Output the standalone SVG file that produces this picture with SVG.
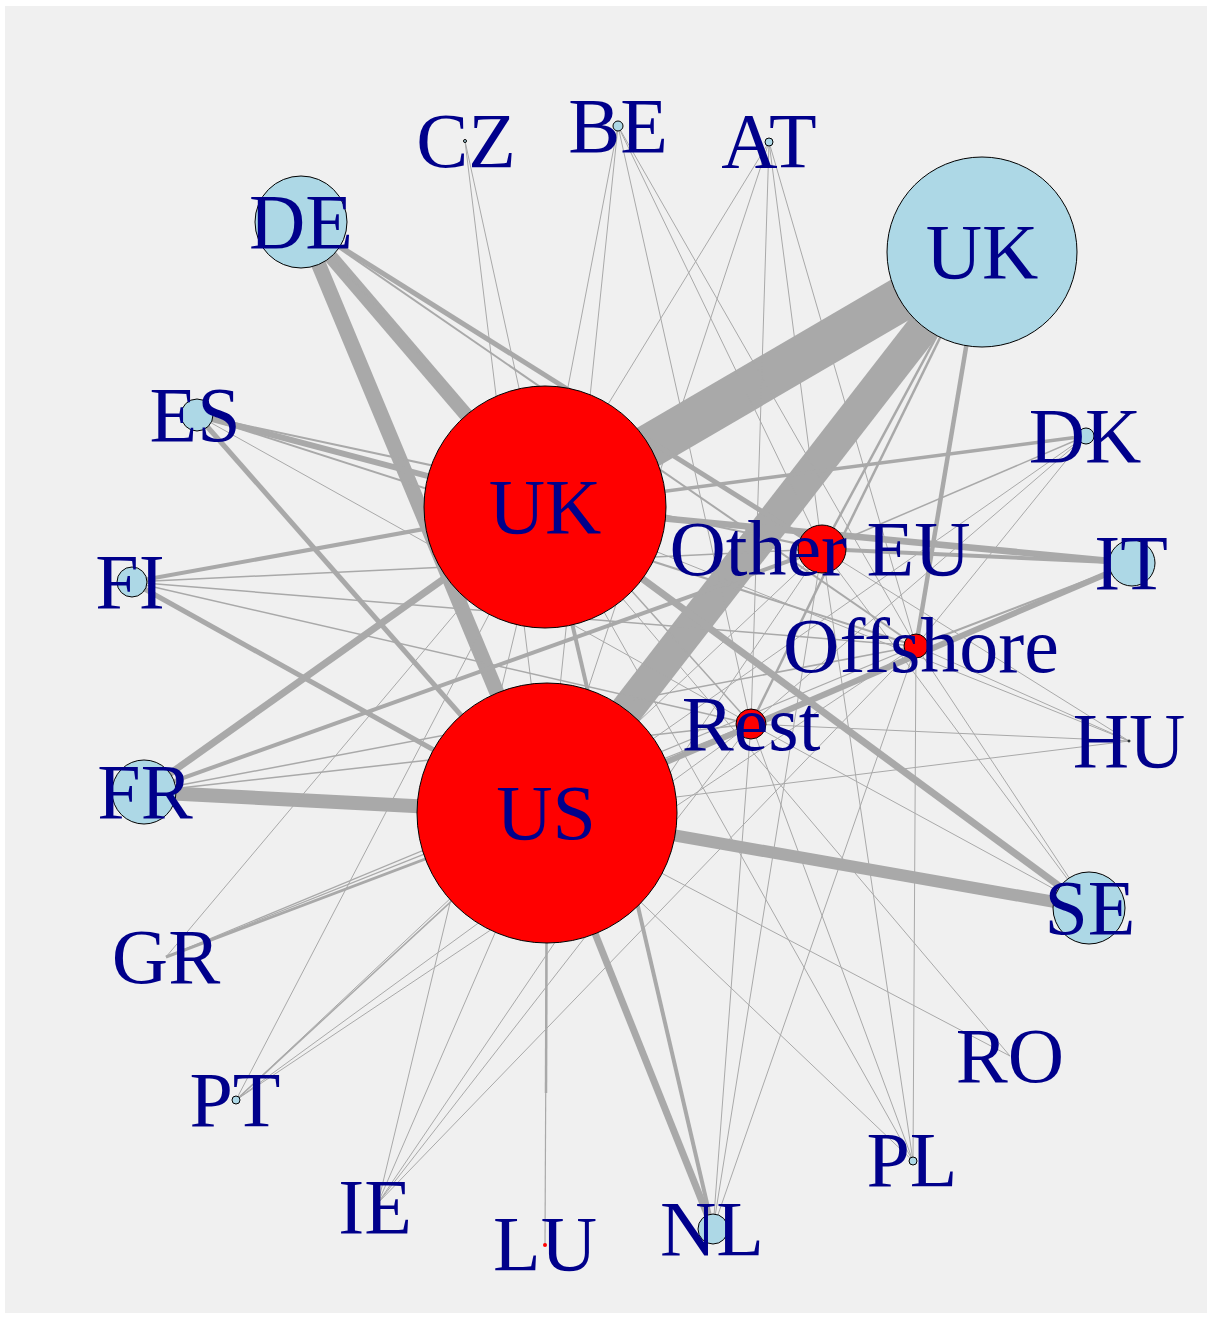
<svg xmlns="http://www.w3.org/2000/svg" width="1211" height="1317" viewBox="0 0 1211 1317">
<style>
.e{stroke:#a9a9a9;fill:none}
.nb{fill:#add8e6;stroke:#000;stroke-width:1}
.nr{fill:#ff0000;stroke:#000;stroke-width:1}
.l{font-family:"Liberation Serif","Times New Roman",serif;font-size:78px;fill:#00008b;text-anchor:middle}
</style>
<rect x="0" y="0" width="1211" height="1317" fill="#ffffff"/>
<rect x="5" y="6" width="1202" height="1307" fill="#f0f0f0"/>
<g id="edges" class="e">
<!-- UK source -->
<line x1="982" y1="252" x2="545" y2="507" stroke-width="44"/>
<line x1="982" y1="252" x2="547" y2="813" stroke-width="33"/>
<line x1="982" y1="252" x2="916" y2="646" stroke-width="4.5"/>
<line x1="982" y1="252" x2="822" y2="549" stroke-width="2.5"/>
<line x1="982" y1="252" x2="751" y2="724" stroke-width="2.5"/>
<!-- DE -->
<line x1="301" y1="222" x2="545" y2="507" stroke-width="14"/>
<line x1="301" y1="222" x2="547" y2="813" stroke-width="15"/>
<line x1="301" y1="222" x2="822" y2="549" stroke-width="5"/>
<line x1="301" y1="222" x2="916" y2="646" stroke-width="2"/>
<line x1="301" y1="222" x2="751" y2="724" stroke-width="1.5"/>
<!-- CZ -->
<line x1="465" y1="141" x2="545" y2="507" stroke-width="1"/>
<line x1="465" y1="141" x2="547" y2="813" stroke-width="1"/>
<!-- BE -->
<line x1="618" y1="126" x2="545" y2="507" stroke-width="1"/>
<line x1="618" y1="126" x2="547" y2="813" stroke-width="1"/>
<line x1="618" y1="126" x2="822" y2="549" stroke-width="1"/>
<line x1="618" y1="126" x2="916" y2="646" stroke-width="1"/>
<line x1="618" y1="126" x2="751" y2="724" stroke-width="1"/>
<!-- AT -->
<line x1="769" y1="142" x2="545" y2="507" stroke-width="1"/>
<line x1="769" y1="142" x2="547" y2="813" stroke-width="1"/>
<line x1="769" y1="142" x2="822" y2="549" stroke-width="1"/>
<line x1="769" y1="142" x2="916" y2="646" stroke-width="1"/>
<line x1="769" y1="142" x2="751" y2="724" stroke-width="1"/>
<!-- DK -->
<line x1="1086" y1="436" x2="545" y2="507" stroke-width="3.5"/>
<line x1="1086" y1="436" x2="547" y2="813" stroke-width="1"/>
<line x1="1086" y1="436" x2="822" y2="549" stroke-width="1.5"/>
<line x1="1086" y1="436" x2="916" y2="646" stroke-width="1"/>
<line x1="1086" y1="436" x2="751" y2="724" stroke-width="1"/>
<!-- ES -->
<line x1="197" y1="415" x2="545" y2="507" stroke-width="6"/>
<line x1="197" y1="415" x2="547" y2="813" stroke-width="5"/>
<line x1="197" y1="415" x2="822" y2="549" stroke-width="2"/>
<line x1="197" y1="415" x2="916" y2="646" stroke-width="2"/>
<line x1="197" y1="415" x2="751" y2="724" stroke-width="1"/>
<!-- FI -->
<line x1="132" y1="582" x2="545" y2="507" stroke-width="4"/>
<line x1="132" y1="582" x2="547" y2="813" stroke-width="5"/>
<line x1="132" y1="582" x2="822" y2="549" stroke-width="1.5"/>
<line x1="132" y1="582" x2="916" y2="646" stroke-width="1.5"/>
<line x1="132" y1="582" x2="751" y2="724" stroke-width="1.5"/>
<!-- IT -->
<line x1="1132" y1="563" x2="545" y2="507" stroke-width="6.5"/>
<line x1="1132" y1="563" x2="547" y2="813" stroke-width="6"/>
<line x1="1132" y1="563" x2="822" y2="549" stroke-width="4"/>
<line x1="1132" y1="563" x2="916" y2="646" stroke-width="2"/>
<line x1="1132" y1="563" x2="751" y2="724" stroke-width="1.5"/>
<!-- FR -->
<line x1="144" y1="792" x2="547" y2="813" stroke-width="14"/>
<line x1="144" y1="792" x2="545" y2="507" stroke-width="7"/>
<line x1="144" y1="792" x2="822" y2="549" stroke-width="4"/>
<line x1="144" y1="792" x2="916" y2="646" stroke-width="1.5"/>
<line x1="144" y1="792" x2="751" y2="724" stroke-width="1.5"/>
<!-- GR -->
<line x1="166" y1="957" x2="547" y2="813" stroke-width="3"/>
<line x1="166" y1="957" x2="916" y2="646" stroke-width="1.2"/>
<line x1="166" y1="957" x2="751" y2="724" stroke-width="1.2"/>
<line x1="166" y1="957" x2="545" y2="507" stroke-width="1"/>
<!-- PT -->
<line x1="236" y1="1100" x2="545" y2="507" stroke-width="1"/>
<line x1="236" y1="1100" x2="547" y2="813" stroke-width="1.5"/>
<line x1="236" y1="1100" x2="822" y2="549" stroke-width="1"/>
<line x1="236" y1="1100" x2="916" y2="646" stroke-width="1"/>
<line x1="236" y1="1100" x2="751" y2="724" stroke-width="1"/>
<!-- IE -->
<line x1="378" y1="1203" x2="545" y2="507" stroke-width="1"/>
<line x1="378" y1="1203" x2="547" y2="813" stroke-width="1"/>
<line x1="378" y1="1203" x2="822" y2="549" stroke-width="1"/>
<line x1="378" y1="1203" x2="916" y2="646" stroke-width="1"/>
<line x1="378" y1="1203" x2="751" y2="724" stroke-width="1"/>
<!-- LU -->
<line x1="545" y1="1245" x2="547" y2="813" stroke-width="1.2"/>
<line x1="546" y1="1093" x2="547" y2="813" stroke-width="2.5"/>
<!-- NL -->
<line x1="713" y1="1229" x2="547" y2="813" stroke-width="7"/>
<line x1="713" y1="1229" x2="545" y2="507" stroke-width="4"/>
<line x1="713" y1="1229" x2="822" y2="549" stroke-width="1"/>
<line x1="713" y1="1229" x2="916" y2="646" stroke-width="1"/>
<line x1="713" y1="1229" x2="751" y2="724" stroke-width="1"/>
<!-- PL -->
<line x1="913" y1="1161" x2="545" y2="507" stroke-width="1"/>
<line x1="913" y1="1161" x2="547" y2="813" stroke-width="1"/>
<line x1="913" y1="1161" x2="822" y2="549" stroke-width="1"/>
<line x1="913" y1="1161" x2="916" y2="646" stroke-width="1"/>
<line x1="913" y1="1161" x2="751" y2="724" stroke-width="1"/>
<!-- RO -->
<line x1="1010" y1="1056" x2="547" y2="813" stroke-width="1"/>
<line x1="1010" y1="1056" x2="545" y2="507" stroke-width="1"/>
<!-- SE -->
<line x1="1089" y1="908" x2="547" y2="813" stroke-width="12"/>
<line x1="1089" y1="908" x2="545" y2="507" stroke-width="7"/>
<line x1="1089" y1="908" x2="822" y2="549" stroke-width="1"/>
<line x1="1089" y1="908" x2="916" y2="646" stroke-width="1"/>
<line x1="1089" y1="908" x2="751" y2="724" stroke-width="1"/>
<!-- HU -->
<line x1="1129" y1="741" x2="545" y2="507" stroke-width="1"/>
<line x1="1129" y1="741" x2="547" y2="813" stroke-width="1"/>
<line x1="1129" y1="741" x2="822" y2="549" stroke-width="1"/>
<line x1="1129" y1="741" x2="916" y2="646" stroke-width="1"/>
<line x1="1129" y1="741" x2="751" y2="724" stroke-width="1"/>
</g>
<g id="n-UKsrc"><circle class="nb" cx="982" cy="252" r="95"/><text class="l" x="982" y="278">UK</text></g>
<g id="n-UKdst"><circle class="nr" cx="545" cy="507" r="121"/><text class="l" x="545" y="533">UK</text></g>
<g id="n-US"><circle class="nr" cx="547" cy="813" r="130"/><text class="l" x="546" y="839">US</text></g>
<g id="n-DE"><circle class="nb" cx="301" cy="222" r="46"/><text class="l" x="301" y="248">DE</text></g>
<g id="n-SE"><circle class="nb" cx="1089" cy="908" r="36"/><text class="l" x="1090" y="934">SE</text></g>
<g id="n-FR"><circle class="nb" cx="144" cy="792" r="32"/><text class="l" x="145" y="818">FR</text></g>
<g id="n-OtherEU"><circle class="nr" cx="822" cy="549" r="24"/><text class="l" x="820" y="575">Other EU</text></g>
<g id="n-IT"><circle class="nb" cx="1132" cy="563" r="23"/><text class="l" x="1131" y="589">IT</text></g>
<g id="n-ES"><circle class="nb" cx="197" cy="415" r="16"/><text class="l" x="195" y="441">ES</text></g>
<g id="n-FI"><circle class="nb" cx="132" cy="582" r="15"/><text class="l" x="130" y="608">FI</text></g>
<g id="n-NL"><circle class="nb" cx="713" cy="1229" r="15"/><text class="l" x="712" y="1255">NL</text></g>
<g id="n-Rest"><circle class="nr" cx="751" cy="724" r="15"/><text class="l" x="751" y="750">Rest</text></g>
<g id="n-Offshore"><circle class="nr" cx="916" cy="646" r="12"/><text class="l" x="921" y="672">Offshore</text></g>
<g id="n-DK"><circle class="nb" cx="1086" cy="436" r="8"/><text class="l" x="1085" y="462">DK</text></g>
<g id="n-BE"><circle class="nb" cx="618" cy="126" r="5"/><text class="l" x="618" y="152">BE</text></g>
<g id="n-AT"><circle class="nb" cx="769" cy="142" r="4"/><text class="l" x="769" y="167">AT</text></g>
<g id="n-PT"><circle class="nb" cx="236" cy="1100" r="4"/><text class="l" x="235" y="1126">PT</text></g>
<g id="n-PL"><circle class="nb" cx="913" cy="1161" r="4"/><text class="l" x="912" y="1186">PL</text></g>
<g id="n-CZ"><circle class="nb" cx="465" cy="141" r="1.5"/><text class="l" x="466" y="167">CZ</text></g>
<g id="n-HU"><circle class="nb" cx="1129" cy="741" r="1"/><text class="l" x="1129" y="767">HU</text></g>
<g id="n-LU"><circle cx="545" cy="1245" r="2" fill="#ff0000"/><text class="l" x="545" y="1270">LU</text></g>
<g id="n-GR"><text class="l" x="166" y="983">GR</text></g>
<g id="n-IE"><text class="l" x="375" y="1233">IE</text></g>
<g id="n-RO"><text class="l" x="1010" y="1082">RO</text></g>
</svg>
